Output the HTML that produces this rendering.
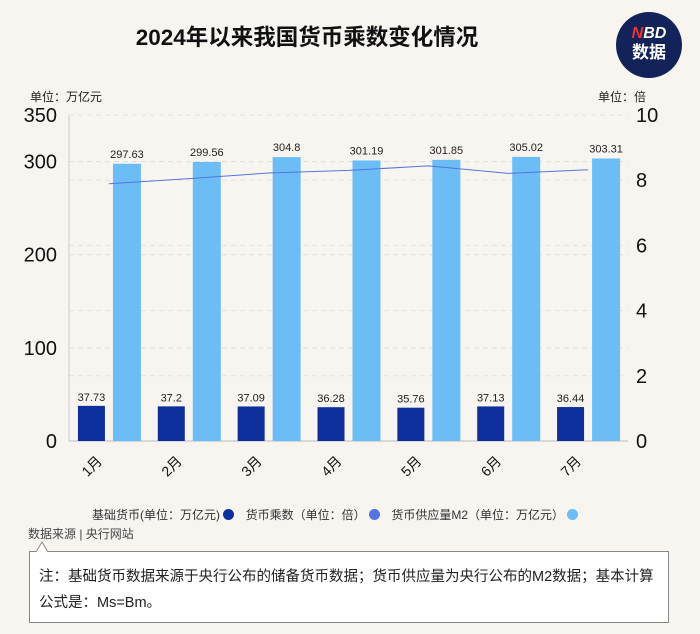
<!DOCTYPE html>
<html><head><meta charset="utf-8"><style>
body{margin:0;background:#f8f5f0;}
#wrap{position:relative;width:700px;height:634px;overflow:hidden;background:#f8f5f0;font-family:"Liberation Sans","Noto Sans CJK SC",sans-serif;}
.t{position:absolute;white-space:nowrap;}
</style></head><body>
<div id="wrap">
<div class="t" style="left:0;width:614px;top:20px;text-align:center;font-size:22.5px;font-weight:bold;color:#111;">2024年以来我国货币乘数变化情况</div>
<div style="position:absolute;left:616px;top:12px;width:66px;height:66px;border-radius:50%;background:#13235a;color:#fff;text-align:center;">
<div style="font-size:16px;font-weight:bold;margin-top:13px;line-height:18px;font-style:italic;"><span style="color:#e33">N</span>BD</div>
<div style="font-size:17px;font-weight:bold;line-height:20px;">数据</div></div>
<div class="t" style="left:30px;top:88px;font-size:12px;color:#222;">单位：万亿元</div>
<div class="t" style="left:598px;top:88px;font-size:12px;color:#222;">单位：倍</div>
<svg id="chart" width="700" height="500" style="position:absolute;left:0;top:0"></svg>
<div class="t" style="left:92px;top:506px;font-size:12px;color:#333;">
<span>基础货币(单位：万亿元) <span style="display:inline-block;width:11px;height:11px;border-radius:50%;background:#0c2f9c;vertical-align:-1px"></span></span>
<span style="margin-left:8px">货币乘数（单位：倍） <span style="display:inline-block;width:11px;height:11px;border-radius:50%;background:#5475e0;vertical-align:-1px"></span></span>
<span style="margin-left:8px">货币供应量M2（单位：万亿元） <span style="display:inline-block;width:11px;height:11px;border-radius:50%;background:#6cbdf5;vertical-align:-1px"></span></span>
</div>
<div class="t" style="left:28px;top:525px;font-size:12px;color:#444;">数据来源 | 央行网站</div>
<div style="position:absolute;left:29px;top:551px;width:640px;height:72px;background:#fff;border:1px solid #888;box-sizing:border-box;padding:12px 8px 0 9px;font-size:14.5px;line-height:26px;color:#222;">注：基础货币数据来源于央行公布的储备货币数据；货币供应量为央行公布的M2数据；基本计算公式是：Ms=Bm。</div>
<svg style="position:absolute;left:36px;top:541px" width="16" height="12"><path d="M0,11 L6,1 L12,11" fill="#fff" stroke="#888"/></svg>
</div>
<script>
const categories=["1月","2月","3月","4月","5月","6月","7月"];
const baseMoney=[37.73,37.2,37.09,36.28,35.76,37.13,36.44];
const m2=[297.63,299.56,304.8,301.19,301.85,305.02,303.31];
const multiplier=[7.89,8.05,8.22,8.30,8.44,8.21,8.32];
const leftTicks=[0,100,200,300,350];
const rightTicks=[0,2,4,6,8,10];
const NS="http://www.w3.org/2000/svg";
const svg=document.getElementById('chart');
const X0=69,X1=628,Y0=441,Y1=115;
const yL=v=>Y0-(v/350)*(Y0-Y1);
const yR=v=>Y0-(v/10)*(Y0-Y1);
const bw=(X1-X0)/categories.length;
const xc=i=>X0+bw*(i+0.5);
function mk(tag,attrs,text){const e=document.createElementNS(NS,tag);for(const k in attrs)e.setAttribute(k,attrs[k]);if(text!==undefined)e.textContent=text;svg.appendChild(e);return e;}
leftTicks.forEach(v=>{const e=mk('line',{x1:X0,x2:X1,y1:yL(v),y2:yL(v),stroke:'#ddd','stroke-dasharray':'5,4'});


const t=mk('text',{x:57,y:yL(v)+7,'text-anchor':'end','font-size':20,fill:'#111','font-family':'Liberation Sans'},v);

});
rightTicks.forEach(v=>{const e=mk('line',{x1:X0,x2:X1,y1:yR(v),y2:yR(v),stroke:'#e2e2e2','stroke-dasharray':'5,4'});


const t=mk('text',{x:636,y:yR(v)+7,'font-size':20,fill:'#111','font-family':'Liberation Sans'},v);

});
const ax=mk('line',{x1:X0,x2:X0,y1:Y1,y2:Y0,stroke:'#ccc'});


const ax2=mk('line',{x1:X0,x2:X1,y1:Y0,y2:Y0,stroke:'#bbb'});


categories.forEach((c,i)=>{
const cx=xc(i);
const b=mk('rect',{x:cx-31,y:yL(baseMoney[i]),width:27,height:Y0-yL(baseMoney[i]),fill:'#0c2f9c'});


const bl=mk('text',{x:cx-17.5,y:yL(baseMoney[i])-5,'text-anchor':'middle','font-size':11,fill:'#222'},baseMoney[i]);


const m=mk('rect',{x:cx+4,y:yL(m2[i]),width:28,height:Y0-yL(m2[i]),fill:'#6cbdf5'});


const ml=mk('text',{x:cx+18,y:yL(m2[i])-6,'text-anchor':'middle','font-size':11,fill:'#222'},m2[i]);


const xl=mk('text',{x:cx-6,y:462,'text-anchor':'end','font-size':14,fill:'#111',transform:`rotate(-45 ${cx-6} 462)`},c);


});
const p=mk('polyline',{points:multiplier.map((v,i)=>xc(i)+','+yR(v)).join(' '),fill:'none',stroke:'#5475e0','stroke-width':1});


</script>
</body></html>
